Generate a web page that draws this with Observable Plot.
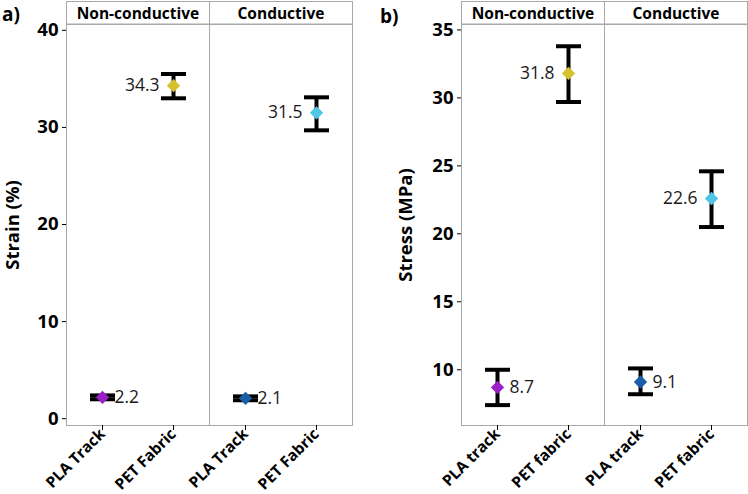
<!DOCTYPE html>
<html><head><meta charset="utf-8">
<script src="https://cdn.jsdelivr.net/npm/d3@7"></script>
<script src="https://cdn.jsdelivr.net/npm/@observablehq/plot@0.6"></script>
<style>
html,body{margin:0;padding:0;background:#fff;}
#wrap{position:relative;width:748px;height:494px;overflow:hidden;font-family:"Open Sans",sans-serif;background:#fff;}
.panel{position:absolute;top:0;}
.tag{position:absolute;font-weight:bold;font-size:19px;color:#000;line-height:1;}
</style></head><body>
<div id="wrap"></div>
<script>
// ---- data ----
const groupOrder = ["Non-conductive", "Conductive"];
const groups = ["Non-conductive", "Non-conductive", "Conductive", "Conductive"];
const colors = ["#9a1fc7", "#d6c22c", "#1b5ea8", "#4ec6e6"];

const strainMaterials = ["PLA Track", "PET Fabric", "PLA Track", "PET Fabric"];
const strainMean = [2.2, 34.3, 2.1, 31.5];
const strainLow  = [2.0, 33.0, 1.9, 29.7];
const strainHigh = [2.4, 35.5, 2.3, 33.1];
const strainTicks = [0, 10, 20, 30, 40];

const stressMaterials = ["PLA track", "PET fabric", "PLA track", "PET fabric"];
const stressMean = [8.7, 31.8, 9.1, 22.6];
const stressLow  = [7.4, 29.7, 8.2, 20.5];
const stressHigh = [10.0, 33.8, 10.1, 24.6];
const stressTicks = [10, 15, 20, 25, 30, 35];

const FONT = '"Open Sans", sans-serif';

// horizontal error-bar cap symbol
const capSymbol = {draw(context) { context.moveTo(-12.5, 0); context.lineTo(12.5, 0); }};

function panel({materials, mean, low, high, ticks, domain, label, marginLeft, marginRight, labelOffset}) {
  const data = groups.map((g, i) => ({
    group: g, material: materials[i], mean: mean[i], low: low[i], high: high[i], color: colors[i], idx: i
  }));
  const leftLabels = data.filter(d => d.idx % 2 === 1);
  const rightLabels = data.filter(d => d.idx % 2 === 0);
  const common = {fx: "group", x: "material"};
  const chart = Plot.plot({
    width: 374, height: 494,
    marginTop: 24, marginBottom: 69, marginLeft, marginRight,
    style: {fontFamily: FONT, background: "white", overflow: "visible", color: "black"},
    fx: {domain: groupOrder, padding: 0, axis: null},
    x: {domain: materials.slice(0, 2), padding: 0.5, axis: null},
    y: {domain, axis: null},
    color: {type: "identity"},
    marks: [
      Plot.frame({stroke: "#a8a8a8"}),
      Plot.axisY({ticks, tickSize: 4, tickPadding: 4, fontSize: 18.5, fontWeight: "bold",
        label, labelAnchor: "center", labelOffset, labelArrow: "none"}),
      Plot.axisX({tickRotate: -45, tickSize: 5, tickPadding: 1, fontSize: 15.5, fontWeight: "bold", label: null}),
      Plot.axisFx({anchor: "top", tickSize: 0, tickPadding: 6, fontSize: 15.5, fontWeight: "bold", label: null}),
      Plot.ruleX(data, {...common, y1: "low", y2: "high", stroke: "black", strokeWidth: 4}),
      Plot.dot(data, {...common, y: "low", symbol: capSymbol, stroke: "black", fill: "none", strokeWidth: 4}),
      Plot.dot(data, {...common, y: "high", symbol: capSymbol, stroke: "black", fill: "none", strokeWidth: 4}),
      Plot.dot(data, {...common, y: "mean", symbol: "diamond2", fill: "color", r: 6}),
      Plot.text(leftLabels, {...common, y: "mean", text: d => d.mean.toFixed(1), textAnchor: "end", dx: -14, fontSize: 17.5, fill: "#1a1a1a"}),
      Plot.text(rightLabels, {...common, y: "mean", text: d => d.mean.toFixed(1), textAnchor: "start", dx: 12, fontSize: 17.5, fill: "#1a1a1a"})
    ]
  });
  // header boxes for facets
  const fx = chart.scale("fx");
  const svg = d3.select(chart);
  groupOrder.slice().reverse().forEach(g => {
    svg.insert("rect", ":first-child")
      .attr("x", fx.apply(g) + 0.5).attr("y", 1.5)
      .attr("width", fx.bandwidth).attr("height", 22.5)
      .attr("fill", "white").attr("stroke", "#a8a8a8");
  });
  return chart;
}

const wrap = document.getElementById("wrap");
const a = panel({materials: strainMaterials, mean: strainMean, low: strainLow, high: strainHigh,
  ticks: strainTicks, domain: [-0.7, 40.6], label: "Strain (%)", marginLeft: 65, marginRight: 22, labelOffset: 61});
a.classList.add("panel"); a.style.left = "0px";
wrap.appendChild(a);
const b = panel({materials: stressMaterials, mean: stressMean, low: stressLow, high: stressHigh,
  ticks: stressTicks, domain: [5.9, 35.4], label: "Stress (MPa)", marginLeft: 87, marginRight: 1, labelOffset: 63});
b.classList.add("panel"); b.style.left = "374px";
wrap.appendChild(b);

const ta = document.createElement("div"); ta.className = "tag"; ta.textContent = "a)"; ta.style.left = "2px"; ta.style.top = "5px";
const tb = document.createElement("div"); tb.className = "tag"; tb.textContent = "b)"; tb.style.left = "380px"; tb.style.top = "7px";
wrap.appendChild(ta); wrap.appendChild(tb);
</script>
</body></html>
